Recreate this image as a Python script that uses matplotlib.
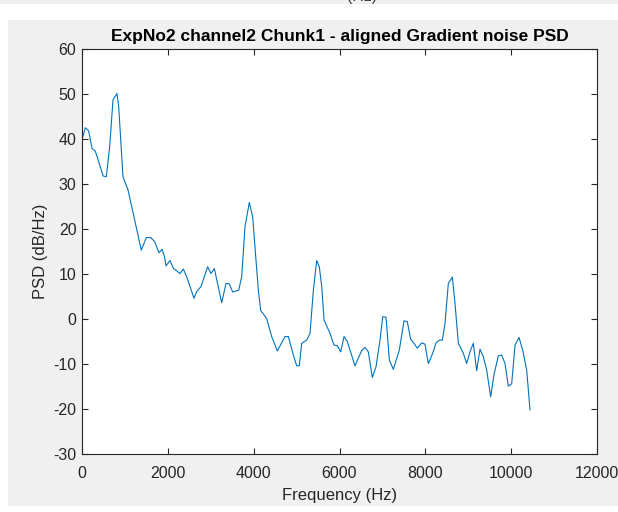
import matplotlib
matplotlib.use("Agg")
import matplotlib.pyplot as plt
from matplotlib.patches import Rectangle

plt.rcParams['font.family'] = ['Liberation Sans', 'DejaVu Sans']

# PSD estimate of the aligned gradient noise (frequency in Hz, level in dB/Hz)
freq_hz = [0, 77, 155, 233, 310, 388, 490, 567, 645, 722, 815, 855, 955, 1072,
           1227, 1382, 1498, 1600, 1693, 1794, 1864, 1926, 1957, 2050, 2128,
           2283, 2361, 2439, 2610, 2672, 2773, 2928, 3006, 3084, 3255, 3355,
           3433, 3511, 3651, 3721, 3798, 3899, 3977, 4054, 4109, 4163, 4303,
           4420, 4551, 4730, 4808, 4924, 5003, 5063, 5119, 5236, 5313, 5391,
           5469, 5530, 5586, 5640, 5779, 5872, 5950, 6028, 6105, 6182, 6361,
           6517, 6594, 6672, 6765, 6851, 6944, 7006, 7084, 7161, 7254, 7394,
           7503, 7580, 7658, 7736, 7813, 7915, 7992, 8070, 8172, 8249, 8326,
           8396, 8458, 8536, 8629, 8691, 8769, 8885, 8963, 9040, 9118, 9196,
           9274, 9351, 9429, 9522, 9599, 9700, 9778, 9856, 9934, 10012, 10090,
           10183, 10268, 10361, 10439]
psd_db = [39.8, 42.5, 41.8, 37.9, 37.3, 35.0, 31.8, 31.6, 38.3, 48.7, 50.1, 47.2,
          31.6, 28.7, 22.0, 15.3, 18.1, 18.1, 17.2, 14.7, 15.5, 13.8, 11.8, 13.0,
          11.3, 10.1, 11.1, 9.4, 4.6, 6.1, 7.2, 11.6, 10.1, 11.2, 3.6, 7.9, 7.8,
          6.0, 6.4, 9.4, 20.5, 25.9, 22.7, 13.1, 6.4, 1.9, 0.1, -3.9, -7.1, -3.9,
          -3.9, -8.0, -10.4, -10.4, -5.4, -4.7, -3.2, 6.4, 13.0, 11.6, 7.2, -0.2,
          -3.2, -5.8, -5.9, -7.3, -3.9, -5.0, -10.4, -7.0, -6.3, -7.3, -13.0,
          -10.6, -4.7, 0.5, 0.4, -9.1, -11.2, -6.9, -0.4, -0.6, -4.5, -5.4, -6.5,
          -5.3, -5.6, -9.9, -7.6, -5.3, -4.7, -4.7, -1.0, 7.9, 9.3, 3.5, -5.4,
          -7.6, -9.9, -7.3, -5.4, -11.5, -6.7, -8.4, -11.3, -17.3, -12.4, -8.2,
          -8.0, -9.9, -14.9, -14.4, -5.8, -4.1, -6.9, -11.3, -20.2]

x_ticks = [0, 2000, 4000, 6000, 8000, 10000, 12000]
y_ticks = [-30, -20, -10, 0, 10, 20, 30, 40, 50, 60]

W, H = 618, 512
fig = plt.figure(figsize=(W / 100, H / 100), dpi=100, facecolor='white')

gray = '#f0f0f0'
# window backgrounds
strip = Rectangle((0, (H - 4) / H), 1, 4 / H, transform=fig.transFigure,
                  facecolor=gray, edgecolor='none', zorder=-2)
panel = Rectangle((8 / W, 6 / H), 1 - 8 / W, (H - 6 - 20) / H,
                  transform=fig.transFigure, facecolor=gray, edgecolor='none',
                  zorder=-2)
fig.patches.extend([strip, panel])

# tail of the label from the window above
lbl = fig.text(362 / W, (H - 1.5) / H, '(Hz)', ha='center', va='baseline',
               fontsize=11.5, color='#404040', zorder=-1)
lbl.set_clip_path(strip)

ax = fig.add_axes([82 / W, 58 / H, (597 - 82) / W, (454 - 49) / H])
ax.set_zorder(1)
ax.set_facecolor('white')
ax.plot(freq_hz, psd_db, color='#0072BD', linewidth=0.8)

ax.set_xlim(0, 12000)
ax.set_ylim(-30, 60)
ax.set_xticks(x_ticks)
ax.set_yticks(y_ticks)
ax.set_xticklabels([str(v) for v in x_ticks])
ax.set_yticklabels([str(v) for v in y_ticks])

axis_col = '#262626'
for s in ax.spines.values():
    s.set_color(axis_col)
    s.set_linewidth(0.8)
ax.tick_params(direction='in', length=4, width=0.8, color=axis_col,
               labelcolor=axis_col, labelsize=11.5, top=True, right=True,
               pad=4)
ax.tick_params(axis='x', pad=9)

ax.set_xlabel('Frequency (Hz)', fontsize=12, color=axis_col, labelpad=5)
ax.set_ylabel('PSD (dB/Hz)', fontsize=12, color=axis_col, labelpad=4)
ax.set_title('ExpNo2 channel2 Chunk1 - aligned Gradient noise PSD',
             fontsize=12.5, fontweight='bold', color='black', pad=6)

fig.savefig('out.png', dpi=100, facecolor='white')
